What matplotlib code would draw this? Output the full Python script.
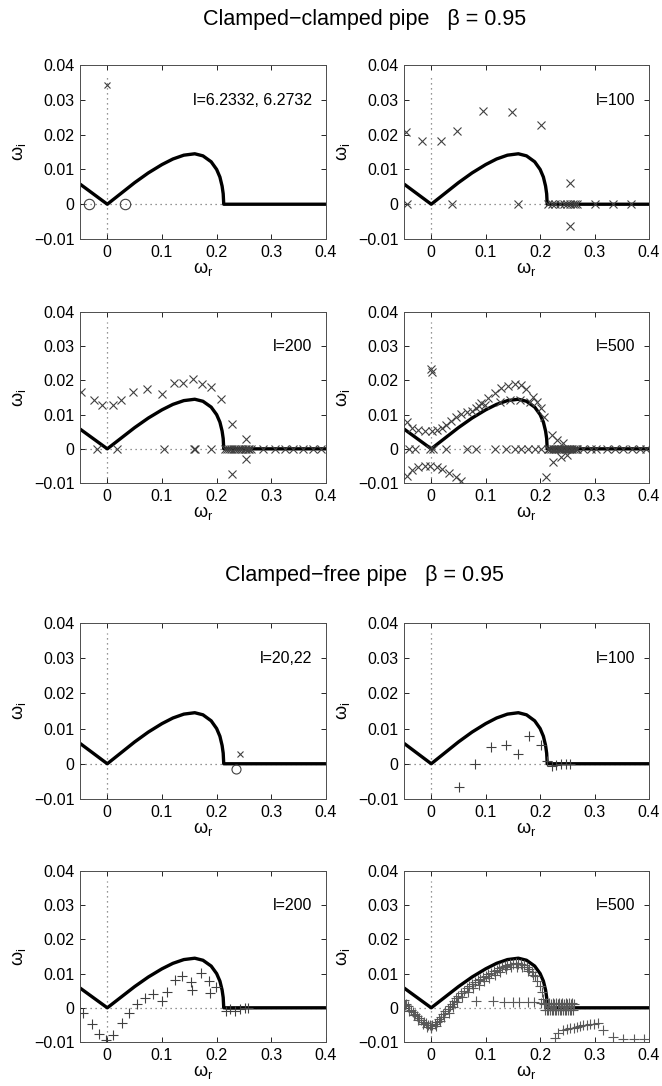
import matplotlib
matplotlib.use('Agg')
import matplotlib.pyplot as plt

plt.rcParams['font.family'] = ['Liberation Sans', 'DejaVu Sans']
plt.rcParams['mathtext.fontset'] = 'custom'
plt.rcParams['mathtext.rm'] = 'Liberation Sans'
plt.rcParams['mathtext.it'] = 'Liberation Sans'

# Reference curve (omega_r, omega_i)
curve_wr = [-0.05, 0.0, 0.025, 0.05, 0.075, 0.10, 0.12, 0.14, 0.16, 0.175, 0.19, 0.20,
            0.206, 0.210, 0.212, 0.213, 0.40]
curve_wi = [0.0058, 0.0, 0.0031, 0.0062, 0.0090, 0.0114, 0.0130, 0.0141, 0.0145, 0.0139,
            0.0122, 0.0100, 0.0078, 0.0052, 0.0030, 0.0, 0.0]

xticks = [0, 0.1, 0.2, 0.3, 0.4]
xtick_labels = ['0', '0.1', '0.2', '0.3', '0.4']
yticks = [-0.01, 0, 0.01, 0.02, 0.03, 0.04]
ytick_labels = ['\u22120.01', '0', '0.01', '0.02', '0.03', '0.04']

# Clamped-clamped, l=6.2332, 6.2732
cc1_x_wr = [0.0]
cc1_x_wi = [0.0343]
cc1_o_wr = [-0.033, 0.033]
cc1_o_wi = [0.0, 0.0]

# Clamped-clamped, l=100
cc2_wr = [-0.046, -0.0176, 0.0178, 0.0465, 0.0948, 0.148, 0.2015, 0.254, 0.254,
          -0.044, 0.0376, 0.160, 0.215, 0.221, 0.227, 0.237, 0.243, 0.250, 0.255,
          0.260, 0.264, 0.267, 0.301, 0.333, 0.367]
cc2_wi = [0.0208, 0.0182, 0.0182, 0.0210, 0.0268, 0.0264, 0.0228, 0.0062, -0.0062,
          0, 0, 0, 0, 0, 0, 0, 0, 0, 0, 0, 0, 0, 0, 0, 0]

# Clamped-clamped, l=200
cc3_wr = [-0.048, -0.0238, -0.0104, 0.0098, 0.0244, 0.0476, 0.072, 0.0994, 0.1213,
          0.1378, 0.1561, 0.1738, 0.189, 0.2085, 0.2287, 0.2537, 0.2537, 0.2287,
          -0.0195, 0.0171, 0.1043, 0.158, 0.161, 0.19, 0.215, 0.219, 0.223, 0.227,
          0.231, 0.235, 0.239, 0.243, 0.247, 0.251, 0.254, 0.257, 0.260, 0.263,
          0.285, 0.306, 0.325, 0.340, 0.358, 0.376, 0.391]
cc3_wi = [0.0167, 0.0143, 0.0128, 0.0128, 0.0143, 0.0167, 0.0175, 0.0159, 0.0193,
          0.0193, 0.0203, 0.0191, 0.0182, 0.0145, 0.0073, 0.0029, -0.0030, -0.0073,
          0, 0, 0, 0, 0, 0, 0, 0, 0, 0, 0, 0, 0, 0, 0, 0, 0, 0, 0, 0,
          0, 0, 0, 0, 0, 0, 0]

# Clamped-clamped, l=500
cc4_wr = [-0.045, -0.036, -0.0237, -0.0115, 0.001, 0.0099, 0.019, 0.028, 0.037, 0.046,
          0.055, 0.065, 0.074, 0.083, 0.088, 0.092, 0.098,
          0.1048, 0.117, 0.129, 0.141, 0.153, 0.165, 0.174, 0.186, 0.195, 0.2016, 0.2079,
          0.1264, 0.1447, 0.163, 0.1815,
          0.221, 0.2303, 0.2425, 0.2485, 0.239, 0.2236, 0.2114,
          -0.001, 0.001,
          -0.045, -0.036, -0.0237, -0.0115, -0.002, 0.0099, 0.019, 0.0323, 0.0447, 0.0539,
          -0.041, -0.0294, -0.003, 0.003, 0.028, 0.065, 0.083, 0.117, 0.138, 0.153, 0.165,
          0.177, 0.19, 0.202, 0.214, 0.217, 0.220, 0.223, 0.226, 0.229, 0.232, 0.235,
          0.238, 0.241, 0.244, 0.247, 0.250, 0.253, 0.256, 0.259, 0.262, 0.265, 0.268,
          0.279, 0.294, 0.303, 0.322, 0.337, 0.352, 0.368, 0.383, 0.395]
cc4_wi = [0.0079, 0.0060, 0.0055, 0.0053, 0.0053, 0.0055, 0.0060, 0.0070, 0.0081, 0.0092,
          0.0101, 0.0107, 0.0110, 0.0118, 0.0125, 0.0133, 0.0127,
          0.0148, 0.0162, 0.0177, 0.0184, 0.0190, 0.0187, 0.0174, 0.0152, 0.0138, 0.0118, 0.0094,
          0.0138, 0.0143, 0.0143, 0.0138,
          0.0040, 0.0026, 0.0016, -0.0018, -0.0025, -0.0038, -0.0082,
          0.0232, 0.0226,
          -0.0080, -0.0062, -0.0054, -0.0050, -0.0050, -0.0054, -0.0060, -0.0072, -0.0083, -0.0093,
          0, 0, 0, 0, 0, 0, 0, 0, 0, 0, 0, 0, 0, 0, 0, 0, 0, 0, 0, 0, 0, 0,
          0, 0, 0, 0, 0, 0, 0, 0, 0, 0, 0,
          0, 0, 0, 0, 0, 0, 0, 0, 0]

# Clamped-free, l=20,22
cf1_x_wr = [0.2427]
cf1_x_wi = [0.0028]
cf1_o_wr = [0.2353]
cf1_o_wi = [-0.0014]

# Clamped-free, l=100
cf2_wr = [0.0515, 0.080, 0.110, 0.138, 0.160, 0.179, 0.2007, 0.2117, 0.221, 0.229,
          0.239, 0.248, 0.254]
cf2_wi = [-0.0065, 0.0, 0.0048, 0.0053, 0.0028, 0.0078, 0.0053, 0.0007, -0.0007,
          -0.0003, 0.0, -0.0002, 0.0]

# Clamped-free, l=200
cf3_wr = [-0.0439, -0.0287, -0.0146, -0.0024, 0.011, 0.0262, 0.0402, 0.0537, 0.0689,
          0.0841, 0.0994, 0.1097, 0.1238, 0.1372, 0.1524, 0.1555, 0.1713, 0.186, 0.1878,
          0.199, 0.217, 0.224, 0.2335, 0.243, 0.252, 0.258]
cf3_wi = [-0.0016, -0.0047, -0.0076, -0.0093, -0.0079, -0.0045, -0.0014, 0.0012, 0.0028,
          0.0040, 0.0021, 0.0045, 0.0082, 0.0094, 0.0075, 0.0052, 0.0101, 0.0077, 0.0043,
          0.0062, -0.0009, -0.0004, -0.0009, -0.0004, 0.0, 0.0]

# Clamped-free, l=500
cf4_wr = [-0.050, -0.046, -0.042, -0.038, -0.034, -0.030, -0.026, -0.022, -0.018, -0.014,
          -0.010, -0.006, -0.002, 0.002, 0.006, 0.010, 0.014, 0.018, 0.022, 0.026,
          0.030, 0.034, 0.038, 0.042, 0.046, 0.050, 0.055, 0.060, 0.065, 0.070,
          0.075, 0.080, 0.085, 0.090, 0.095, 0.100, 0.105, 0.110, 0.115, 0.120,
          0.125, 0.130, 0.135, 0.140, 0.145, 0.150, 0.155, 0.160, 0.165, 0.170,
          0.175, 0.180, 0.185, 0.190, 0.195, 0.199, 0.203, 0.206,
          -0.048, -0.040, -0.032, -0.024, -0.016, -0.008, 0.000, 0.008, 0.016, 0.024,
          0.032, 0.040, 0.048, 0.057, 0.067, 0.077, 0.087, 0.097, 0.107, 0.117,
          0.127, 0.137, 0.147, 0.157, 0.167, 0.177, 0.187,
          0.0825, 0.113, 0.1344, 0.1497, 0.1619, 0.1771, 0.1893, 0.2016,
          0.208, 0.211, 0.214, 0.217, 0.220, 0.223, 0.226, 0.229, 0.232, 0.235,
          0.238, 0.241, 0.244, 0.247, 0.250, 0.253, 0.256, 0.259, 0.262,
          0.209, 0.212, 0.215, 0.218, 0.221, 0.224, 0.227, 0.230, 0.233, 0.236,
          0.239, 0.242, 0.245, 0.248, 0.251, 0.254, 0.257, 0.260,
          0.2274, 0.2335, 0.2427, 0.250, 0.255, 0.2615, 0.2673, 0.2735, 0.2795, 0.2855,
          0.2918, 0.299, 0.307, 0.316, 0.3347, 0.353, 0.3715, 0.390]
cf4_wi = [0.0022, 0.0012, 0.0004, -0.0005, -0.0012, -0.0018, -0.0025, -0.0031, -0.0036, -0.0041,
          -0.0045, -0.0049, -0.0051, -0.0050, -0.0047, -0.0042, -0.0034, -0.0026, -0.0018, -0.0010,
          -0.0003, 0.0004, 0.0012, 0.0020, 0.0028, 0.0035, 0.0043, 0.0050, 0.0057, 0.0063,
          0.0069, 0.0075, 0.0080, 0.0085, 0.0089, 0.0093, 0.0098, 0.0103, 0.0107, 0.0111,
          0.0115, 0.0119, 0.0122, 0.0124, 0.0127, 0.0128, 0.0130, 0.0129, 0.0128, 0.0125,
          0.0120, 0.0113, 0.0104, 0.0092, 0.0078, 0.0064, 0.0045, 0.0025,
          0.0008, -0.0010, -0.0022, -0.0035, -0.0046, -0.0055, -0.0058, -0.0052, -0.0040, -0.0028,
          -0.0014, 0.0002, 0.0018, 0.0033, 0.0045, 0.0058, 0.0068, 0.0077, 0.0087, 0.0097,
          0.0106, 0.0113, 0.0118, 0.0120, 0.0118, 0.0108, 0.0095,
          0.0021, 0.0020, 0.0018, 0.0017, 0.0017, 0.0017, 0.0016, 0.0013,
          0.0012, 0.0013, 0.0012, 0.0013, 0.0012, 0.0013, 0.0012, 0.0013, 0.0012, 0.0013,
          0.0012, 0.0013, 0.0012, 0.0013, 0.0012, 0.0013, 0.0012, 0.0013, 0.0012,
          -0.0006, -0.0005, -0.0006, -0.0005, -0.0006, -0.0005, -0.0006, -0.0005, -0.0006, -0.0005,
          -0.0006, -0.0005, -0.0006, -0.0005, -0.0006, -0.0005, -0.0006, -0.0005,
          -0.0089, -0.0075, -0.0065, -0.0062, -0.0060, -0.0058, -0.0055, -0.0052, -0.0050, -0.0049,
          -0.0047, -0.0046, -0.0045, -0.0065, -0.0085, -0.0090, -0.0090, -0.0090]

labels = ['l=6.2332, 6.2732', 'l=100', 'l=200', 'l=500',
          'l=20,22', 'l=100', 'l=200', 'l=500']

fig = plt.figure(figsize=(6.62, 10.86), dpi=100)

col_left = [0.1208, 0.6103]
col_width = [0.3716, 0.3701]
row_bottom = [0.7799, 0.5552, 0.2643, 0.0405]
row_height = [0.1602, 0.1575, 0.1621, 0.1575]

mk_color = '0.25'


def setup(ax, label):
    ax.plot([0, 0], [-0.01, 0.037], ls=(0, (1, 3)), color='0.45', lw=0.9, zorder=1)
    ax.plot([-0.05, 0.4], [0, 0], ls=(0, (1, 3)), color='0.45', lw=0.9, zorder=1)
    ax.plot(curve_wr, curve_wi, color='black', lw=2.4, zorder=2, solid_capstyle='butt')
    ax.set_xlim(-0.05, 0.4)
    ax.set_ylim(-0.01, 0.04)
    ax.set_xticks(xticks)
    ax.set_xticklabels(xtick_labels)
    ax.set_yticks(yticks)
    ax.set_yticklabels(ytick_labels)
    ax.tick_params(direction='in', top=True, right=True, length=3.5, width=0.6,
                   labelsize=11.5, pad=4)
    for s in ax.spines.values():
        s.set_linewidth(0.7)
        s.set_color('0.3')
    ax.set_xlabel(r'$\omega_r$', fontsize=13, labelpad=0)
    ax.set_ylabel(r'$\omega_i$', fontsize=13, labelpad=4)
    ax.text(0.375, 0.0298, label, ha='right', va='center', fontsize=11.5)


axes = []
for r in range(4):
    for c in range(2):
        ax = fig.add_axes([col_left[c], row_bottom[r], col_width[c], row_height[r]])
        setup(ax, labels[r * 2 + c])
        axes.append(ax)

xkw = dict(ls='none', marker='x', color=mk_color, mew=0.8, ms=5.5, zorder=3, clip_on=True)
pkw = dict(ls='none', marker='+', color=mk_color, mew=0.8, ms=6.5, zorder=3, clip_on=True)
okw = dict(ls='none', marker='o', mfc='none', mec=mk_color, mew=0.8, ms=7.5, zorder=3)

axes[0].plot(cc1_x_wr, cc1_x_wi, **dict(xkw, ms=4))
axes[0].plot(cc1_o_wr, cc1_o_wi, **okw)
axes[1].plot(cc2_wr, cc2_wi, **xkw)
axes[2].plot(cc3_wr, cc3_wi, **xkw)
axes[3].plot(cc4_wr, cc4_wi, **xkw)

axes[4].plot(cf1_x_wr, cf1_x_wi, **dict(xkw, ms=4.5))
axes[4].plot(cf1_o_wr, cf1_o_wi, **dict(okw, ms=6.5))
axes[5].plot(cf2_wr, cf2_wi, **pkw)
axes[6].plot(cf3_wr, cf3_wi, **pkw)
axes[7].plot(cf4_wr, cf4_wi, **dict(pkw, color='0.35'))

fig.text(0.551, 0.9816, 'Clamped\u2212clamped pipe   \u03b2 = 0.95', ha='center', va='center',
         fontsize=15.5)
fig.text(0.551, 0.4705, 'Clamped\u2212free pipe   \u03b2 = 0.95', ha='center', va='center',
         fontsize=15.5)

fig.savefig('out.png', dpi=100)
